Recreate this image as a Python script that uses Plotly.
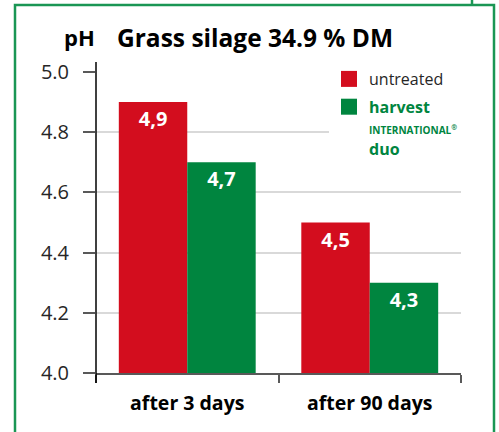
import plotly.graph_objects as go

categories = ["after 3 days", "after 90 days"]
untreated = [4.9, 4.5]
treated = [4.7, 4.3]
series_names = ["untreated",
                "<b><span style='color:#00853F'>harvest</span></b><br>"
                "<b><span style='color:#00853F;font-size:10px'>INTERNATIONAL<sup>®</sup></span></b><br>"
                "<b><span style='color:#00853F'>duo</span></b>"]
y_ticks = [4.0, 4.2, 4.4, 4.6, 4.8, 5.0]

RED = "#D30D1E"
GREEN = "#00853F"
FONT = "Open Sans"
W, H = 499, 432
L, R, T, B = 96, 38, 72, 59
pw, ph = W - L - R, H - T - B


def px_x(x):
    return (x - L) / pw


def px_y(y):
    return 1 - (y - T) / ph


def lab(v):
    return f"{v:.1f}".replace(".", ",")


fig = go.Figure()
for vals, col in [(untreated, RED), (treated, GREEN)]:
    fig.add_trace(go.Bar(
        x=categories, y=vals, marker=dict(color=col, line=dict(width=0)),
        text=[lab(v) for v in vals], textposition="inside", insidetextanchor="end",
        textfont=dict(family=FONT, size=20, color="white", weight=700),
        showlegend=False, cliponaxis=False,
    ))
for i, (name, col) in enumerate(zip(series_names, [RED, GREEN])):
    fig.add_trace(go.Scatter(
        x=[None], y=[None], mode="markers", name=name, legendgroup=f"g{i}",
        marker=dict(symbol="square", size=16, color=col, line=dict(width=0)),
    ))

shapes = [
    # y axis line (slightly extended like the original)
    dict(type="line", xref="paper", yref="paper", x0=0, x1=0,
         y0=px_y(383), y1=px_y(62), line=dict(color="black", width=1.5)),
    # green frame
    dict(type="rect", xref="paper", yref="paper", x0=px_x(15), x1=px_x(494),
         y0=px_y(445), y1=px_y(5), line=dict(color="#1A9654", width=2.5)),
    dict(type="line", xref="paper", yref="paper", x0=px_x(472), x1=px_x(472),
         y0=px_y(5), y1=px_y(-5), line=dict(color="#1A9654", width=2.5)),
]

fig.update_layout(
    width=W, height=H, margin=dict(l=L, r=R, t=T, b=B),
    paper_bgcolor="white", plot_bgcolor="white",
    barmode="group", bargap=0.25, bargroupgap=0,
    font=dict(family=FONT, color="#262626"),
    shapes=shapes,
    legend=dict(x=px_x(329), y=px_y(62), xanchor="left", yanchor="top",
                bgcolor="white", font=dict(family=FONT, size=16, color="#262626"),
                valign="top", traceorder="grouped", tracegroupgap=4),
    annotations=[
        dict(text="<b>pH</b>", xref="paper", yref="paper", x=px_x(62), y=px_y(37),
             xanchor="left", yanchor="middle", showarrow=False,
             font=dict(family=FONT, size=22, color="black")),
        dict(text="<b>Grass silage 34.9 % DM</b>", xref="paper", yref="paper",
             x=px_x(115), y=px_y(37), xanchor="left", yanchor="middle", showarrow=False,
             font=dict(family=FONT, size=24.5, color="black")),
    ],
    xaxis=dict(type="category", categoryorder="array", categoryarray=categories,
               tickson="boundaries", ticks="outside", ticklen=8, tickwidth=1.5,
               tickcolor="#595959", showline=True, linecolor="#595959", linewidth=1.5,
               ticklabelstandoff=12,
               tickfont=dict(family=FONT, size=19.5, color="black", weight=700),
               showgrid=False),
    yaxis=dict(range=[4.0, 5.0], tickvals=y_ticks, tickformat=".1f",
               ticks="outside", ticklen=12, tickwidth=1.5, tickcolor="#595959",
               ticklabelstandoff=10,
               showgrid=True, gridcolor="#D9D9D9", gridwidth=1.5, zeroline=False,
               showline=False, tickfont=dict(family=FONT, size=20, color="#262626")),
)

fig.write_html("out.html", config={"displayModeBar": False},
               post_script="document.body.style.margin='0px';")
